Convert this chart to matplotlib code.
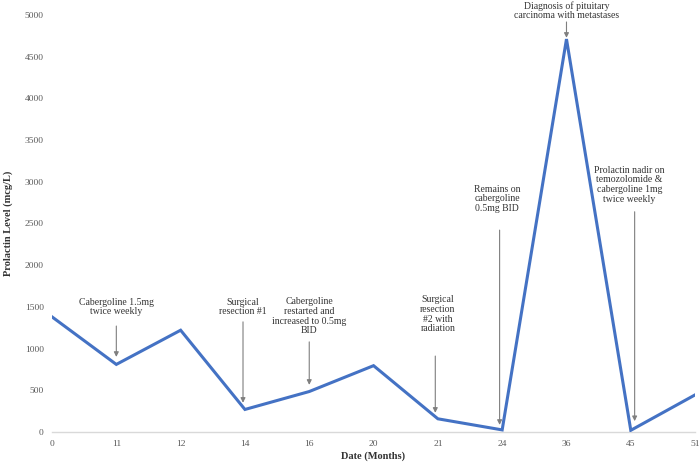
# Prolactin level over time with clinical annotations

import numpy as np
import matplotlib
matplotlib.use("Agg")
import matplotlib.pyplot as plt

plt.rcParams['font.family'] = ['Liberation Serif', 'DejaVu Serif']

# Data
months = ['0', '11', '12', '14', '16', '20', '21', '24', '36', '45', '51']
prolactin = [1380, 810, 1220, 270, 485, 795, 158, 25, 4710, 20, 445]

# Annotations: text, category index, text centre level, arrow start level, arrow tip level
notes = [
    "Cabergoline 1.5mg\ntwice weekly",
    "Surgical\nresection #1",
    "Cabergoline\nrestarted and\nincreased to 0.5mg\nBID",
    "Surgical\nresection\n#2 with\nradiation",
    "Remains on\ncabergoline\n0.5mg BID",
    "Diagnosis of pituitary\ncarcinoma with metastases",
    "Prolactin nadir on\ntemozolomide &\ncabergoline 1mg\ntwice weekly",
]
note_idx = [1, 3, 4, 6, 7, 8, 9]
note_dx = [0, -0.03, 0, -0.04, -0.04, 0, 0.06]
note_text_dx = [0, -0.03, 0, 0, -0.08, 0, -0.02]
note_text_y = [1500, 1500, 1385, 1410, 2795, 5050, 2965]
arrow_from = [1270, 1320, 1080, 910, 2420, 4915, 2640]
arrow_to = [900, 350, 565, 230, 85, 4725, 130]

fig = plt.figure(figsize=(7, 4.65), dpi=100)
ax = fig.add_axes([0.0743, 0.071, 0.9187, 0.897])

x = np.arange(len(months))
ax.plot(x, prolactin, color='#4472C4', lw=2.2, solid_joinstyle='miter', zorder=3)

for txt, i, dx, tdx, ty, a0, a1 in zip(notes, note_idx, note_dx, note_text_dx,
                                       note_text_y, arrow_from, arrow_to):
    ax.annotate('', xy=(i + dx, a1), xytext=(i + dx, a0),
                arrowprops=dict(arrowstyle='-|>', color='#7f7f7f', lw=0.8,
                                mutation_scale=7, shrinkA=0, shrinkB=0))
    ax.text(i + tdx, ty, txt, ha='center', va='center', fontsize=7,
            linespacing=1.1, color='#333333', clip_on=False)

ax.set_xlim(0, len(months) - 1)
ax.set_ylim(0, 5000)
ax.set_xticks(x)
ax.set_xticklabels(months)
ax.set_yticks(np.arange(0, 5001, 500))
ax.tick_params(length=0, labelsize=6.8, labelcolor='#595959', pad=6)
ax.tick_params(axis='y', pad=6)

for s in ['top', 'right', 'left']:
    ax.spines[s].set_visible(False)
ax.spines['bottom'].set_color('#d9d9d9')
ax.spines['bottom'].set_linewidth(1.0)

ax.set_xlabel('Date (Months)', fontsize=7.5, fontweight='bold', color='#333333')
ax.set_ylabel('Prolactin Level (mcg/L)', fontsize=7.5, fontweight='bold', color='#333333')
ax.xaxis.set_label_coords(0.5, -0.047)
ax.yaxis.set_label_coords(-0.061, 0.5)

plt.savefig('out.png', dpi=100)
